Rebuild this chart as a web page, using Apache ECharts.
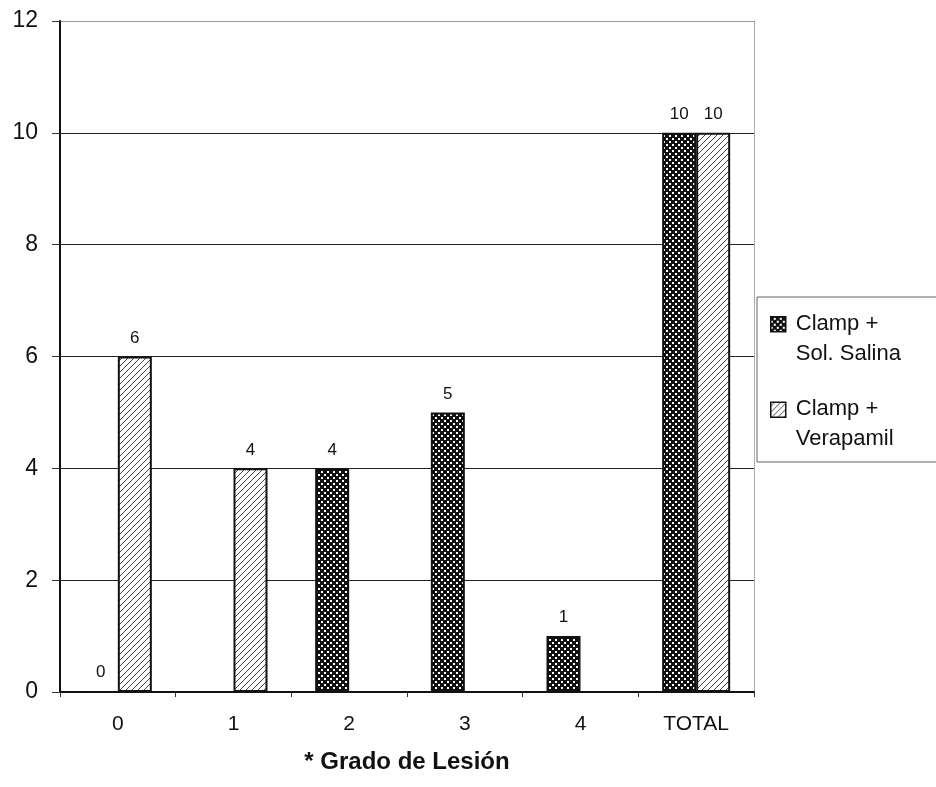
<!DOCTYPE html>
<html>
<head>
<meta charset="utf-8">
<script src="https://cdn.jsdelivr.net/npm/echarts@6/dist/echarts.min.js"></script>
<style>html,body{margin:0;padding:0;background:#fff;}#c{width:936px;height:787px;}</style>
</head>
<body>
<div id="c"></div>
<script>
var categories = ['0', '1', '2', '3', '4', 'TOTAL'];
var salina = [0, null, 4, 5, 1, 10];
var verapamil = [6, 4, null, null, null, 10];
var yTicks = [0, 2, 4, 6, 8, 10, 12];
var seriesNames = ['Clamp +\nSol. Salina', 'Clamp +\nVerapamil'];
var axisTitle = '* Grado de Lesión';

function dotPattern() {
  var c = document.createElement('canvas');
  c.width = 6; c.height = 6;
  var g = c.getContext('2d');
  g.fillStyle = '#111'; g.fillRect(0, 0, 6, 6);
  g.fillStyle = '#fff';
  g.fillRect(0, 0, 2, 2);
  g.fillRect(3, 3, 2, 2);
  return c;
}
function hatchPattern() {
  var c = document.createElement('canvas');
  c.width = 6; c.height = 6;
  var g = c.getContext('2d');
  g.fillStyle = '#fff'; g.fillRect(0, 0, 6, 6);
  g.strokeStyle = '#444'; g.lineWidth = 1;
  g.beginPath();
  g.moveTo(0, 6); g.lineTo(6, 0);
  g.moveTo(-1, 1); g.lineTo(1, -1);
  g.moveTo(5, 7); g.lineTo(7, 5);
  g.stroke();
  return c;
}
var dark = {image: dotPattern(), repeat: 'repeat'};
var light = {image: hatchPattern(), repeat: 'repeat'};
var iconPath = 'path://M0,0 M20,60 M0,8 L15,8 L15,23 L0,23 Z';
var FONT = 'Liberation Sans, Arial, sans-serif';

var chart = echarts.init(document.getElementById('c'), null, {renderer: 'canvas'});
chart.setOption({
  animation: false,
  backgroundColor: '#fff',
  grid: {left: 60, right: 182, top: 21, bottom: 95, containLabel: false},
  legend: {
    orient: 'vertical',
    left: 757, top: 297,
    padding: [11, 60, 7, 13],
    itemGap: 24,
    itemWidth: 20, itemHeight: 60,
    borderColor: '#666', borderWidth: 1,
    icon: iconPath,
    data: seriesNames,
    textStyle: {fontFamily: FONT, fontSize: 22, lineHeight: 30, color: '#111'},
    itemStyle: {borderColor: '#111', borderWidth: 1.5}
  },
  xAxis: {
    type: 'category',
    data: categories,
    name: axisTitle,
    nameLocation: 'middle',
    nameGap: 58,
    nameTextStyle: {fontFamily: FONT, fontSize: 24, fontWeight: 'bold', color: '#111'},
    axisLine: {lineStyle: {color: '#111', width: 2}},
    axisTick: {show: true, length: 5, lineStyle: {color: '#333'}},
    axisLabel: {fontFamily: FONT, fontSize: 21, color: '#111', margin: 22}
  },
  yAxis: [{
    type: 'value',
    min: yTicks[0], max: yTicks[yTicks.length - 1], interval: 2,
    axisLine: {show: true, lineStyle: {color: '#111', width: 2}},
    axisTick: {show: true, length: 8, lineStyle: {color: '#333'}},
    axisLabel: {fontFamily: FONT, fontSize: 23, color: '#111', margin: 22},
    splitLine: {show: true, lineStyle: {color: ['#222', '#222', '#222', '#222', '#222', '#222', '#999'], width: 1}}
  }, {
    type: 'value',
    position: 'right',
    min: yTicks[0], max: yTicks[yTicks.length - 1], interval: 2,
    axisLine: {show: true, lineStyle: {color: '#999', width: 1, type: 'dotted'}},
    axisTick: {show: false},
    axisLabel: {show: false},
    splitLine: {show: false}
  }],
  series: [{
    name: seriesNames[0],
    type: 'bar',
    data: salina,
    barWidth: 34,
    barGap: '0%',
    itemStyle: {color: dark, borderColor: '#111', borderWidth: 2},
    label: {show: true, position: 'top', distance: 10, fontFamily: FONT, fontSize: 17, color: '#111'}
  }, {
    name: seriesNames[1],
    type: 'bar',
    data: verapamil,
    barWidth: 34,
    barGap: '0%',
    itemStyle: {color: light, borderColor: '#111', borderWidth: 2},
    label: {show: true, position: 'top', distance: 10, fontFamily: FONT, fontSize: 17, color: '#111'}
  }]
});
</script>
</body>
</html>
